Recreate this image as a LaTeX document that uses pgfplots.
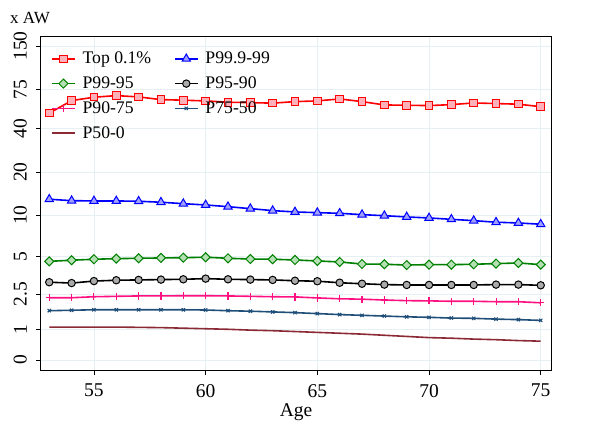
\documentclass[border=0pt]{standalone}
\usepackage{fontspec}
\setmainfont{Liberation Serif}
\usepackage{pgfplots}
\pgfplotsset{compat=1.18}
\definecolor{cTop}{HTML}{FF0000}
\definecolor{cTopF}{HTML}{FFB0B8}
\definecolor{cBlue}{HTML}{0000FF}
\definecolor{cBlueF}{HTML}{A0A0FF}
\definecolor{cGreen}{HTML}{008000}
\definecolor{cGreenF}{HTML}{B4E0B4}
\definecolor{cGrayF}{HTML}{AAAAAA}
\definecolor{cPink}{HTML}{FF1080}
\definecolor{cNavy}{HTML}{1F4E79}
\definecolor{cMaroon}{HTML}{8B2A35}
\definecolor{gridc}{HTML}{E6EFF1}
\begin{document}
\begin{tikzpicture}
\begin{axis}[
  name=ax,
  scale only axis,
  width=510pt, height=333pt,
  xmin=52.63, xmax=75.46,
  ymin=-0.32, ymax=173,
  y coord trafo/.code={\pgfmathparse{ln(#1/2+sqrt((#1/2)*(#1/2)+1))}},
  ytick={0,1,2.5,5,10,20,40,75,150},
  yticklabels={0,1,2.5,5,10,20,40,75,150},
  xtick={55,60,65,70,75},
  /pgf/number format/assume math mode=true,
  tick label style={font=\fontsize{19.5}{23}\selectfont},
  yticklabel style={rotate=90, anchor=south, inner sep=0pt, yshift=9pt},
  xticklabel style={inner sep=0pt, yshift=-9pt},
  tick align=outside, tick pos=left,
  major tick length=5pt,
  every tick/.style={black, line width=0.8pt},
  grid=major,
  grid style={color=gridc, line width=0.7pt},
  axis line style={line width=1pt},
  xlabel={Age},
  xlabel style={font=\fontsize{19.5}{23}\selectfont, inner sep=0pt, yshift=-6pt},
  legend columns=2,
  legend cell align=left,
  legend style={at={(0,1)}, anchor=north west, xshift=7pt, yshift=-11pt,
    draw=none, fill=none, font=\fontsize{17.7}{21}\selectfont,
    row sep=7.5pt,
    /tikz/every odd column/.append style={column sep=5pt},
    /tikz/every even column/.append style={column sep=21pt}},
  legend image code/.code={\draw[mark repeat=2,mark phase=2] plot coordinates {(0cm,0cm)(0.4cm,0cm)(0.8cm,0cm)};},
  every axis plot/.append style={line width=1.6pt},
]
\addplot[cTop, mark=square*, mark size=3.8pt, mark options={fill=cTopF, line width=1pt}] coordinates {
(53,51.3)(54,62.7)(55,66.2)(56,67.9)(57,66.5)(58,63.7)(59,63.1)(60,62.4)(61,61.1)(62,60.7)(63,60.2)(64,61.7)(65,62.4)(66,64.4)(67,61.7)(68,58.5)(69,58.2)(70,57.9)(71,58.8)(72,60.4)(73,59.8)(74,59.2)(75,56.9)};
\addlegendentry{Top 0.1\%}
\addplot[cBlue, mark=triangle*, mark size=4.8pt, mark options={fill=cBlueF, line width=1pt}] coordinates {
(53,12.92)(54,12.63)(55,12.57)(56,12.57)(57,12.51)(58,12.31)(59,12.03)(60,11.78)(61,11.46)(62,11.10)(63,10.75)(64,10.52)(65,10.40)(66,10.29)(67,10.07)(68,9.90)(69,9.70)(70,9.54)(71,9.33)(72,9.13)(73,8.90)(74,8.79)(75,8.61)};
\addlegendentry{P99.9-99}
\addplot[cGreen, mark=square*, mark size=3.2pt, mark options={rotate=45, fill=cGreenF, line width=1pt}] coordinates {
(53,4.62)(54,4.71)(55,4.79)(56,4.84)(57,4.87)(58,4.90)(59,4.92)(60,4.96)(61,4.87)(62,4.81)(63,4.79)(64,4.73)(65,4.65)(66,4.57)(67,4.41)(68,4.39)(69,4.33)(70,4.36)(71,4.36)(72,4.39)(73,4.44)(74,4.49)(75,4.36)};
\addlegendentry{P99-95}
\addplot[black, mark=*, mark size=3.7pt, mark options={fill=cGrayF, line width=1pt}] coordinates {
(53,3.17)(54,3.12)(55,3.24)(56,3.29)(57,3.31)(58,3.33)(59,3.35)(60,3.39)(61,3.35)(62,3.33)(63,3.31)(64,3.26)(65,3.23)(66,3.14)(67,3.08)(68,3.03)(69,3.01)(70,3.01)(71,3.01)(72,3.01)(73,3.03)(74,3.03)(75,2.99)};
\addlegendentry{P95-90}
\addplot[cPink, mark=+, mark size=3.6pt, mark options={line width=1.1pt}] coordinates {
(53,2.33)(54,2.33)(55,2.38)(56,2.40)(57,2.42)(58,2.42)(59,2.43)(60,2.43)(61,2.42)(62,2.40)(63,2.38)(64,2.37)(65,2.32)(66,2.28)(67,2.26)(68,2.22)(69,2.19)(70,2.18)(71,2.16)(72,2.16)(73,2.14)(74,2.14)(75,2.09)};
\addlegendentry{P90-75}
\addplot[cNavy, mark=x, mark size=2.3pt, mark options={line width=1.1pt}] coordinates {
(53,1.74)(54,1.76)(55,1.78)(56,1.78)(57,1.78)(58,1.78)(59,1.78)(60,1.77)(61,1.74)(62,1.72)(63,1.69)(64,1.66)(65,1.62)(66,1.58)(67,1.55)(68,1.52)(69,1.49)(70,1.47)(71,1.44)(72,1.43)(73,1.40)(74,1.38)(75,1.35)};
\addlegendentry{P75-50}
\addplot[cMaroon, no markers] coordinates {
(53,1.10)(54,1.10)(55,1.10)(56,1.10)(57,1.09)(58,1.08)(59,1.06)(60,1.04)(61,1.02)(62,0.99)(63,0.97)(64,0.94)(65,0.91)(66,0.88)(67,0.85)(68,0.81)(69,0.77)(70,0.73)(71,0.71)(72,0.68)(73,0.66)(74,0.63)(75,0.61)};
\addlegendentry{P50-0}
\end{axis}
\node[anchor=base west, inner sep=0pt, font=\fontsize{17}{20}\selectfont] at ([xshift=-31pt, yshift=13pt]ax.north west) {x AW};
\path[use as bounding box] ([xshift=-41pt,yshift=-56pt]ax.south west) rectangle ([xshift=46pt,yshift=37pt]ax.north east);
\end{tikzpicture}
\end{document}
